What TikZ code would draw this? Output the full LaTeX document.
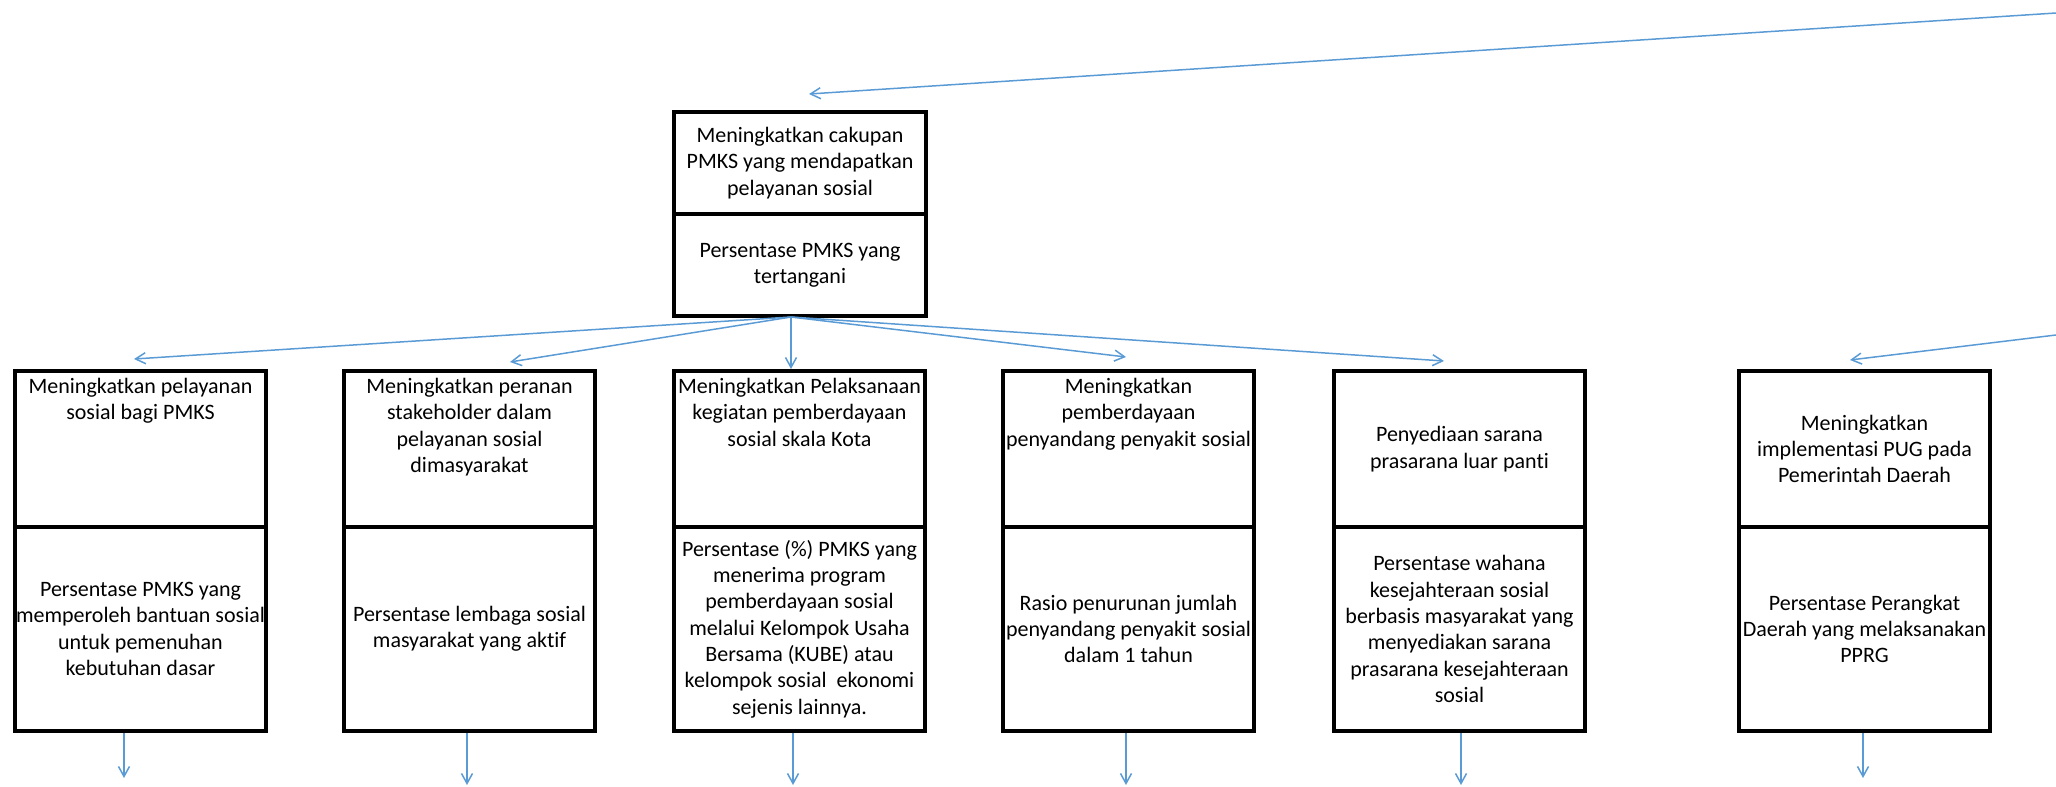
\documentclass[tikz,border=0pt]{standalone}
\usepackage{fontspec}
\setmainfont[Ligatures={NoCommon}]{Carlito}
\usetikzlibrary{arrows.meta}
\definecolor{arrowblue}{RGB}{91,155,213}
\begin{document}
\begin{tikzpicture}[x=0.5pt,y=-0.5pt,
  sect/.style={draw=black,line width=2pt,minimum width=125.5pt,inner sep=0pt,align=center,font=\fontsize{11}{13.15}\selectfont},
  upsect/.style={sect,minimum height=78pt},
  lowsect/.style={sect,minimum height=102pt},
  goalsect/.style={sect,minimum width=126pt,minimum height=51pt},
  txt/.style={align=center,inner sep=0pt,anchor=north,font=\fontsize{11}{13.15}\selectfont},
  link/.style={draw=arrowblue,line width=0.75pt,-{Straight Barb[length=5pt,width=5.5pt]}}]
\useasboundingbox (0,0) rectangle (2056,787);

% top box
\node[goalsect] (ga) at (800,163) {Meningkatkan cakupan\\PMKS yang mendapatkan\\pelayanan sosial};
\node[goalsect] (gb) at (800,265) {Persentase PMKS yang\\tertangani};

% box 1
\node[upsect] (s1a) at (140.5,449) {};
\node[txt] (s1t) at (140.5,378) {Meningkatkan pelayanan\\sosial bagi PMKS};
\node[lowsect] (s1b) at (140.5,629) {Persentase PMKS yang\\memperoleh bantuan sosial\\untuk pemenuhan\\kebutuhan dasar};

% box 2
\node[upsect] (s2a) at (469.5,449) {};
\node[txt] (s2t) at (469.5,378) {Meningkatkan peranan\\stakeholder dalam\\pelayanan sosial\\dimasyarakat};
\node[lowsect] (s2b) at (469.5,629) {Persentase lembaga sosial\\masyarakat yang aktif};

% box 3
\node[upsect] (s3a) at (799.5,449) {};
\node[txt] (s3t) at (799.5,378) {Meningkatkan Pelaksanaan\\kegiatan pemberdayaan\\sosial skala Kota};
\node[lowsect] (s3b) at (799.5,629) {Persentase (\%) PMKS yang\\menerima program\\pemberdayaan sosial\\melalui Kelompok Usaha\\Bersama (KUBE) atau\\kelompok sosial\ \ ekonomi\\sejenis lainnya.};

% box 4
\node[upsect] (s4a) at (1128.5,449) {};
\node[txt] (s4t) at (1128.5,378) {Meningkatkan\\pemberdayaan\\penyandang penyakit sosial};
\node[lowsect] (s4b) at (1128.5,629) {Rasio penurunan jumlah\\penyandang penyakit sosial\\dalam 1 tahun};

% box 5
\node[upsect] (s5a) at (1459.5,449) {Penyediaan sarana\\prasarana luar panti};
\node[lowsect] (s5b) at (1459.5,629) {Persentase wahana\\kesejahteraan sosial\\berbasis masyarakat yang\\menyediakan sarana\\prasarana kesejahteraan\\sosial};

% box 6
\node[upsect] (s6a) at (1864.5,449) {Meningkatkan\\implementasi PUG pada\\Pemerintah Daerah};
\node[lowsect] (s6b) at (1864.5,629) {Persentase Perangkat\\Daerah yang melaksanakan\\PPRG};

% connector ends
\coordinate (topin) at (2056,13);
\coordinate (topend) at (809,94);
\coordinate (hub) at (791,317);
\coordinate (e1) at (134,359);
\coordinate (e2) at (510,362);
\coordinate (e3) at (791,369);
\coordinate (e4) at (1126,357);
\coordinate (e5) at (1444,361);
\coordinate (rin) at (2056,335);
\coordinate (e6) at (1850,360);
\coordinate (b1) at (124,733);  \coordinate (d1) at (124,778);
\coordinate (b2) at (467,733);  \coordinate (d2) at (467,785);
\coordinate (b3) at (793,733);  \coordinate (d3) at (793,785);
\coordinate (b4) at (1126,733); \coordinate (d4) at (1126,785);
\coordinate (b5) at (1461,733); \coordinate (d5) at (1461,785);
\coordinate (b6) at (1863,733); \coordinate (d6) at (1863,778);

\draw[link] (topin) -- (topend);
\foreach \i in {1,...,5} {\draw[link] (hub) -- (e\i);}
\draw[link] (rin) -- (e6);
\foreach \i in {1,...,6} {\draw[link] (b\i) -- (d\i);}
\end{tikzpicture}
\end{document}
